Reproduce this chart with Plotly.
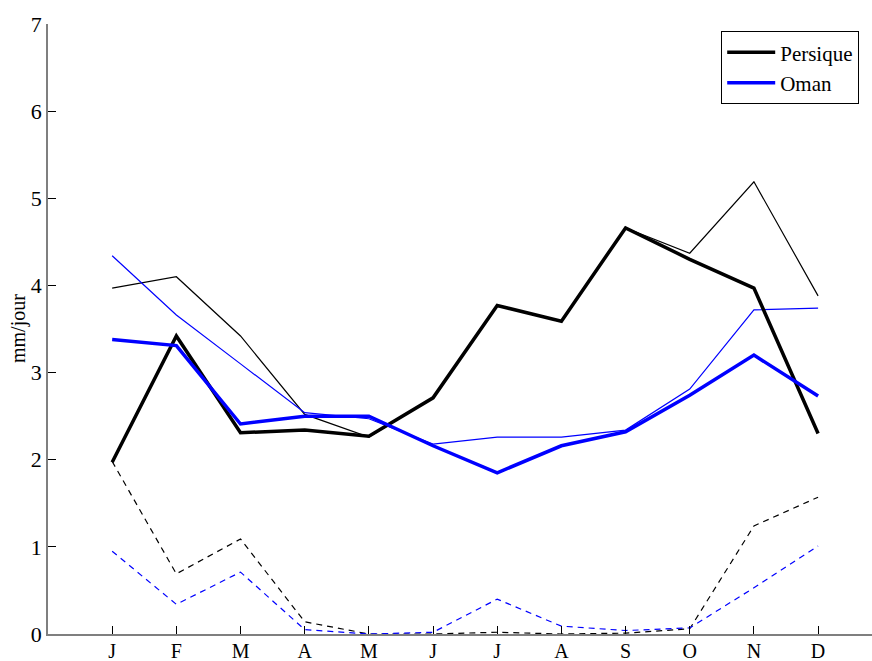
import plotly.graph_objects as go

months = ["J", "F", "M", "A", "M", "J", "J", "A", "S", "O", "N", "D"]
x_pos = list(range(1, 13))

persique_main = [1.97, 3.42, 2.31, 2.34, 2.27, 2.71, 3.77, 3.59, 4.66, 4.30, 3.97, 2.30]
persique_thin = [3.97, 4.10, 3.42, 2.52, 2.26, 2.71, 3.77, 3.59, 4.66, 4.37, 5.19, 3.88]
persique_dash = [1.98, 0.69, 1.09, 0.14, 0.00, 0.00, 0.02, 0.00, 0.01, 0.06, 1.24, 1.57]

oman_main = [3.38, 3.31, 2.41, 2.50, 2.50, 2.16, 1.85, 2.16, 2.32, 2.74, 3.20, 2.73]
oman_thin = [4.34, 3.66, 3.10, 2.54, 2.47, 2.18, 2.26, 2.26, 2.34, 2.81, 3.72, 3.74]
oman_dash = [0.95, 0.34, 0.71, 0.05, 0.00, 0.02, 0.40, 0.09, 0.04, 0.07, 0.53, 1.01]

BLACK = "#000000"
BLUE = "#0000ff"
FONT = "Liberation Serif"

fig = go.Figure()

fig.add_trace(go.Scatter(x=x_pos, y=persique_dash, mode="lines", showlegend=False,
                         line=dict(color=BLACK, width=1.2, dash="6px,5px")))
fig.add_trace(go.Scatter(x=x_pos, y=oman_dash, mode="lines", showlegend=False,
                         line=dict(color=BLUE, width=1.2, dash="6px,5px")))
fig.add_trace(go.Scatter(x=x_pos, y=persique_thin, mode="lines", showlegend=False,
                         line=dict(color=BLACK, width=1.2)))
fig.add_trace(go.Scatter(x=x_pos, y=oman_thin, mode="lines", showlegend=False,
                         line=dict(color=BLUE, width=1.2)))
fig.add_trace(go.Scatter(x=x_pos, y=persique_main, mode="lines", name="Persique",
                         line=dict(color=BLACK, width=3.5)))
fig.add_trace(go.Scatter(x=x_pos, y=oman_main, mode="lines", name="Oman",
                         line=dict(color=BLUE, width=3.5)))

fig.update_layout(
    width=872, height=661,
    margin=dict(l=48, r=0, t=24, b=27, pad=0, autoexpand=False),
    paper_bgcolor="white", plot_bgcolor="white",
    font=dict(family=FONT, size=21, color="black"),
    showlegend=True,
    legend=dict(x=(721 - 48) / 824, y=(634 - 31) / 610, xanchor="left", yanchor="top",
                bgcolor="white", bordercolor="black", borderwidth=1.2,
                font=dict(family=FONT, size=21, color="black"),
                tracegroupgap=0, itemwidth=48),
    annotations=[dict(text="mm/jour", xref="paper", yref="paper", x=0, y=0.5,
                      xanchor="center", yanchor="middle",
                      xshift=-30, textangle=-90, showarrow=False,
                      font=dict(family=FONT, size=20, color="black"))],
)
fig.update_xaxes(
    range=[0, 12.84], tickmode="array", tickvals=x_pos, ticktext=months,
    ticks="inside", ticklen=8, tickwidth=1.2, tickcolor="black", automargin=False,
    showline=True, linecolor="#7f7f7f", linewidth=1.5, showgrid=False, zeroline=False,
    tickfont=dict(family=FONT, size=20, color="black"), ticklabelstandoff=-2,
)
fig.update_yaxes(
    range=[0, 7], tickmode="array", tickvals=list(range(0, 8)),
    ticks="inside", ticklen=8, tickwidth=1.2, tickcolor="black", automargin=False,
    showline=True, linecolor="#7f7f7f", linewidth=1.5, showgrid=False, zeroline=False,
    tickfont=dict(family=FONT, size=22, color="black"),
)

fig.write_html("out.html", config={"displayModeBar": False},
               post_script="document.body.style.margin='0';document.body.style.padding='0';")
